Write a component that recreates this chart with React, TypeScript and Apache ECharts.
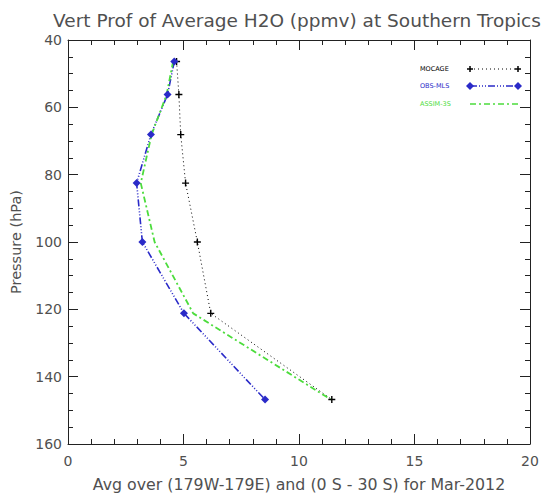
import React, { useEffect, useRef } from "react";
import * as echarts from "echarts";

const pressureLevels = [46.4, 56.2, 68.1, 82.5, 100, 121.2, 146.8];
const mocage = [4.7, 4.8, 4.88, 5.09, 5.6, 6.18, 11.42];
const obsMls = [4.6, 4.31, 3.59, 2.97, 3.22, 5.02, 8.53];
const assim = [4.55, 4.27, 3.62, 3.15, 3.75, 5.42, 11.38];
const seriesNames = ["MOCAGE", "OBS-MLS", "ASSIM-3S"];

const BLACK = "#000000";
const BLUE = "#2a2ac8";
const GREEN = "#4cdc3c";
const TEXT = "#505050";
const FONT = "DejaVu Sans";

const plusPath = "path://M4,0h2v4h4v2h-4v4h-2v-4h-4v-2h4z";

function pairs(xs: number[]) {
  return xs.map((x, i) => [x, pressureLevels[i]]);
}

export default function App() {
  const ref = useRef<HTMLDivElement>(null);
  useEffect(() => {
    if (!ref.current) return;
    const chart = echarts.init(ref.current, undefined, { renderer: "svg" });
    const axisCommon = {
      axisLine: { show: true, onZero: false, lineStyle: { color: "#222", width: 1 } },
      axisTick: { show: true, inside: true, length: 10, lineStyle: { color: "#222" } },
      minorTick: { show: true, length: 5, lineStyle: { color: "#222" } },
      splitLine: { show: false },
    };
    const legendRows = [
      { y: 69, color: BLACK, name: seriesNames[0] },
      { y: 86, color: BLUE, name: seriesNames[1] },
      { y: 104, color: GREEN, name: seriesNames[2] },
    ];
    const graphics: any[] = [
      {
        type: "text",
        x: 297,
        y: 20,
        style: {
          text: "Vert Prof of Average H2O (ppmv) at Southern Tropics",
          fill: TEXT,
          font: `18.5px "${FONT}"`,
          textAlign: "center",
          textVerticalAlign: "middle",
        },
      },
    ];
    legendRows.forEach((r, i) => {
      graphics.push({
        type: "text",
        x: 420,
        y: r.y,
        style: { text: r.name, fill: r.color, font: `6.5px "${FONT}"`, textVerticalAlign: "middle" },
      });
      const lineDash = i === 0 ? [1, 3] : i === 1 ? [7, 2, 1, 2, 1, 2, 1, 2] : [6, 3, 2, 3];
      graphics.push({
        type: "line",
        shape: { x1: 470, y1: r.y, x2: 518, y2: r.y },
        style: { stroke: r.color, lineWidth: i === 0 ? 1 : 1.6, lineDash },
      });
      [470, 518].forEach((mx) => {
        if (i === 0) {
          graphics.push({ type: "line", shape: { x1: mx - 3, y1: r.y, x2: mx + 3, y2: r.y }, style: { stroke: BLACK, lineWidth: 1.5 } });
          graphics.push({ type: "line", shape: { x1: mx, y1: r.y - 3, x2: mx, y2: r.y + 3 }, style: { stroke: BLACK, lineWidth: 1.5 } });
        } else if (i === 1) {
          graphics.push({
            type: "polygon",
            shape: { points: [[mx, r.y - 4], [mx + 4, r.y], [mx, r.y + 4], [mx - 4, r.y]] },
            style: { fill: BLUE },
          });
        }
      });
    });

    chart.setOption({
      animation: false,
      backgroundColor: "#ffffff",
      textStyle: { fontFamily: FONT },
      grid: { left: 66, right: 15, top: 40, bottom: 35, containLabel: false },
      xAxis: [
        {
          type: "value",
          min: 0,
          max: 20,
          interval: 5,
          position: "bottom",
          ...axisCommon,
          minorTick: { ...axisCommon.minorTick, splitNumber: 5 },
          axisLabel: { color: TEXT, fontSize: 14, margin: 10, fontFamily: FONT },
          name: "Avg over (179W-179E) and (0 S - 30 S) for Mar-2012",
          nameLocation: "middle",
          nameGap: 32,
          nameTextStyle: { color: TEXT, fontSize: 15.8, fontFamily: FONT },
        },
        {
          type: "value",
          min: 0,
          max: 20,
          interval: 5,
          position: "top",
          ...axisCommon,
          minorTick: { ...axisCommon.minorTick, splitNumber: 5 },
          axisLabel: { show: false },
        },
      ],
      yAxis: [
        {
          type: "value",
          min: 40,
          max: 160,
          interval: 20,
          inverse: true,
          position: "left",
          ...axisCommon,
          minorTick: { ...axisCommon.minorTick, splitNumber: 4 },
          axisLabel: { color: TEXT, fontSize: 14, margin: 6, fontFamily: FONT },
          name: "Pressure (hPa)",
          nameLocation: "middle",
          nameGap: 45,
          nameRotate: 90,
          nameTextStyle: { color: TEXT, fontSize: 14.5, fontFamily: FONT },
        },
        {
          type: "value",
          min: 40,
          max: 160,
          interval: 20,
          inverse: true,
          position: "right",
          ...axisCommon,
          minorTick: { ...axisCommon.minorTick, splitNumber: 4 },
          axisLabel: { show: false },
        },
      ],
      series: [
        {
          name: seriesNames[0],
          type: "line",
          data: pairs(mocage),
          symbol: plusPath,
          symbolSize: 7,
          itemStyle: { color: BLACK },
          lineStyle: { color: BLACK, width: 1, type: [1, 3] },
        },
        {
          name: seriesNames[1],
          type: "line",
          data: pairs(obsMls),
          symbol: "diamond",
          symbolSize: 8,
          itemStyle: { color: BLUE },
          lineStyle: { color: BLUE, width: 1.6, type: [7, 2, 1, 2, 1, 2, 1, 2] },
        },
        {
          name: seriesNames[2],
          type: "line",
          data: pairs(assim),
          symbol: "none",
          lineStyle: { color: GREEN, width: 1.8, type: [6, 3, 2, 3] },
        },
      ],
      graphic: graphics,
    });
    return () => chart.dispose();
  }, []);
  return (
    <div
      ref={ref}
      style={{ position: "fixed", left: 0, top: 0, width: 545, height: 497 }}
    />
  );
}
